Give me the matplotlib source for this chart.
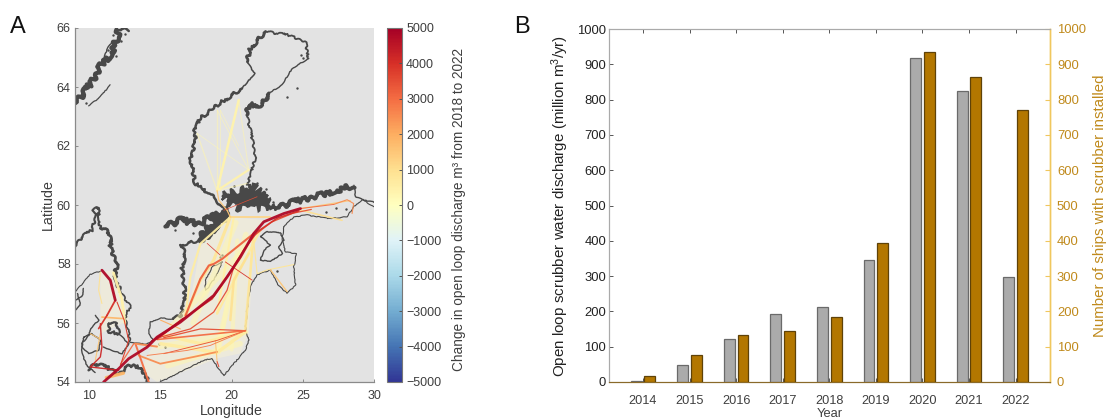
import matplotlib
matplotlib.use("Agg")
import matplotlib.pyplot as plt
import numpy as np
from matplotlib.colors import Normalize

plt.rcParams['font.family'] = ['Liberation Sans', 'DejaVu Sans']
plt.rcParams['mathtext.default'] = 'regular'

# ---------- Panel B data ----------
years = [2014, 2015, 2016, 2017, 2018, 2019, 2020, 2021, 2022]
discharge = [4, 48, 121, 194, 213, 347, 918, 825, 297]
ships = [18, 77, 132, 145, 184, 394, 936, 864, 770]

# ---------- Panel A data: coast (lon, lat, linewidth) ----------
coasts = [
    ([22.38, 21.32, 21.08], [65.88, 65.31, 64.86], 2.0),
    ([21.08, 21.62, 20.73], [64.86, 64.46, 63.95], 1.1),
    ([20.73, 19.33, 17.8, 17.34, 17.52, 17.1, 17.29, 17.45, 18.27, 18.98, 19.68],
     [63.95, 63.5, 62.94, 62.43, 62.15, 61.7, 61.07, 60.73, 60.45, 60.16, 59.7], 1.8),
    ([22.38, 24.0, 25.18, 25.42], [65.88, 65.76, 65.54, 64.97], 1.3),
    ([25.42, 24.25, 23.55, 22.61, 22.14], [64.97, 64.63, 64.07, 63.79, 63.39], 1.0),
    ([22.61, 22.14, 21.2, 21.08], [63.79, 63.39, 63.39, 63.05], 2.4),
    ([21.08, 21.55, 21.67, 21.32, 21.08, 21.55], [63.05, 62.03, 61.64, 60.96, 60.68, 60.51], 1.3),
    ([23.19, 24.37, 26.25, 27.42, 28.59], [59.9, 60.11, 60.34, 60.5, 60.67], 2.8),
    ([28.59, 28.71, 29.3, 30.0], [60.67, 60.28, 60.16, 60.1], 1.0),
    ([30.0, 29.17, 28.59, 28.11, 26.82, 25.3, 24.37, 23.66], [59.94, 60.18, 59.95, 59.6, 59.54, 59.66, 59.6, 59.26], 0.8),
    ([23.66, 23.55, 23.78, 24.55, 24.37, 24.49, 23.9, 23.19, 22.73, 21.79, 21.32, 21.08, 20.97, 21.2, 20.97, 20.15, 19.45, 18.98, 18.63, 18.04, 16.4, 15.0],
     [59.26, 58.8, 58.41, 58.35, 57.9, 57.29, 57.0, 57.34, 57.8, 57.63, 57.24, 56.45, 55.76, 55.42, 55.08, 54.62, 54.22, 54.52, 54.8, 54.74, 54.34, 54.0], 0.8),
    ([22.03, 22.5, 23.43, 23.66, 23.31, 23.55, 22.73, 22.02, 22.26, 22.73, 22.03],
     [58.93, 59.1, 59.05, 58.8, 58.58, 58.35, 58.08, 58.13, 58.47, 58.64, 58.93], 1.0),
    ([19.33, 18.63, 18.16, 18.16, 18.39, 18.86, 19.33], [58.07, 57.9, 57.45, 57.11, 57.22, 57.56, 58.07], 0.8),
    ([19.68, 18.98, 18.39, 17.81], [59.7, 59.49, 59.09, 58.81], 4.5),
    ([17.81, 16.4], [58.81, 58.64], 1.6),
    ([16.4, 16.76, 16.52, 16.64, 16.75, 16.4, 15.93], [58.64, 58.35, 57.9, 57.39, 56.77, 56.26, 56.12], 1.8),
    ([15.93, 15.0, 14.29, 14.18, 14.48, 14.06, 12.89], [56.12, 56.17, 56.03, 55.64, 55.44, 55.28, 55.33], 0.9),
    ([15.35, 16.4, 17.81, 18.74, 19.68], [59.27, 59.49, 59.37, 59.66, 59.83], 3.0),
    ([9.02, 9.61, 10.31, 10.9, 11.48, 11.83, 12.07], [63.45, 63.79, 64.29, 64.8, 65.08, 65.48, 65.93], 3.0),
    ([12.07, 12.77], [65.93, 65.95], 1.8),
    ([9.96, 10.78, 11.48], [63.36, 63.67, 64.07], 0.9),
    ([11.0, 11.25, 11.6], [64.9, 65.3, 65.5], 1.0),
    ([9.02, 9.49, 10.19, 10.43, 10.31, 10.66, 10.71, 10.78], [58.59, 58.93, 59.15, 59.6, 59.83, 59.92, 59.49, 59.21], 1.5),
    ([10.78, 11.37, 11.55, 11.95, 11.83, 12.19], [59.21, 59.1, 58.47, 58.08, 57.63, 57.06], 2.0),
    ([12.19, 12.89, 12.54, 12.72, 12.89], [57.06, 56.55, 56.27, 55.71, 55.37], 1.2),
    ([9.02, 9.73, 10.08, 10.78], [57.06, 57.45, 57.65, 57.76], 0.8),
    ([9.02, 9.49, 9.61], [56.77, 56.89, 57.17], 1.0),
    ([9.02, 9.37, 9.2], [56.43, 56.6, 57.0], 1.0),
    ([10.43, 10.66, 10.08, 9.96, 9.49, 9.49, 9.84, 10.43], [56.26, 56.09, 55.81, 55.58, 55.3, 54.96, 54.56, 54.33], 1.0),
    ([9.61, 10.19, 10.78, 10.66, 9.96, 9.49, 9.61], [55.52, 55.64, 55.41, 55.08, 54.96, 55.2, 55.52], 1.0),
    ([11.37, 11.95, 12.07, 11.37, 11.37], [55.98, 55.98, 55.64, 55.7, 55.98], 1.6),
    ([12.07, 12.77, 12.3, 11.49, 11.0], [55.64, 55.3, 54.96, 55.08, 55.2], 1.0),
    ([9.96, 10.43, 11.25, 11.6, 12.07, 12.89, 13.71, 13.94, 14.18], [54.4, 54.62, 54.5, 54.4, 54.28, 54.57, 54.5, 54.17, 54.0], 1.9),
]
blob_lon = [19.33, 20.15, 21.55, 22.26, 23.19, 22.03, 20.62, 19.68]
blob_lat = [60.28, 60.45, 60.62, 60.28, 59.94, 59.88, 59.88, 60.11]
wash_lon = [14.76, 16.87, 17.81, 19.91, 22.26, 21.55, 21.2, 20.62, 18.98, 14.76, 13.6]
wash_lat = [55.52, 56.2, 58.58, 59.59, 59.49, 58.8, 55.65, 54.97, 54.8, 54.0, 54.4]
wash2_lon = [10.78, 11.7, 12.8, 10.78]
wash2_lat = [57.73, 57.8, 56.1, 55.64]
islet_lon = [25.0, 25.3, 24.9, 19.2, 27.3, 26.6, 28.0, 23.2, 19.3, 14.9, 15.3,
             10.6, 11.3, 11.7, 12.2, 12.5, 10.1, 9.8, 11.9, 24.6, 23.9, 20.2, 17.3, 16.0, 21.8, 22.4, 22.9]
islet_lat = [64.98, 65.05, 65.1, 58.25, 59.9, 59.75, 59.85, 57.75, 58.3, 55.3, 55.2,
             64.55, 65.25, 65.75, 65.55, 65.8, 64.05, 63.45, 65.05, 63.95, 63.65, 60.65, 59.05, 59.15, 60.75, 60.55, 60.1]

# ---------- Panel A data: shipping routes (lon, lat, change m3, linewidth) ----------
routes = [
    ([14.9, 20.97], [55.2, 55.7], 300, 4.0),
    ([15.5, 20.6], [54.55, 55.3], 300, 4.0),
    ([15.8, 21.1], [55.9, 58.6], 300, 4.0),
    ([18.9, 21.0], [55.0, 59.0], 300, 4.0),
    ([17.3, 20.3], [56.0, 59.4], 300, 4.0),
    ([20.4, 20.0], [58.8, 55.1], 300, 3.0),
    ([19.1, 19.8], [55.0, 57.0], 300, 3.0),
    ([18.98, 20.5], [60.49, 63.56], 380, 1.8),
    ([18.98, 18.98], [60.49, 63.22], 320, 1.0),
    ([19.2, 19.2], [60.49, 63.22], 320, 0.6),
    ([18.98, 17.57], [60.49, 62.43], 320, 1.0),
    ([18.98, 21.2], [60.49, 61.19], 400, 1.6),
    ([18.98, 21.08], [60.49, 60.73], 300, 1.0),
    ([18.98, 21.2], [63.22, 61.19], 300, 0.7),
    ([20.5, 21.2], [63.56, 61.19], 320, 0.8),
    ([17.57, 21.2], [62.43, 61.19], 200, 0.6),
    ([19.2, 20.5], [63.22, 62.0], 280, 0.6),
    ([19.91, 18.74, 17.81, 16.76], [59.59, 58.13, 57.46, 56.25], 800, 2.2),
    ([19.91, 17.81, 17.1, 16.76], [59.59, 58.69, 57.56, 56.25], 550, 1.6),
    ([20.15, 19.68, 18.98], [59.59, 58.24, 56.32], 500, 1.6),
    ([21.55, 20.97], [59.03, 55.81], 800, 1.9),
    ([22.02, 18.98], [59.15, 56.32], 700, 1.6),
    ([21.2, 20.15, 19.91], [58.35, 57.45, 56.1], 900, 1.8),
    ([21.55, 21.79, 22.5, 24.37], [58.8, 57.67, 57.8, 57.98], 800, 0.8),
    ([22.73, 23.9], [57.8, 57.06], 1500, 1.0),
    ([24.72, 27.76], [59.84, 59.48], 1000, 1.1),
    ([19.91, 22.73], [59.59, 59.59], 1200, 1.3),
    ([15.0, 18.98, 20.97], [55.3, 55.0, 55.7], 600, 2.4),
    ([15.2, 17.8, 20.97], [55.6, 55.3, 55.7], 600, 2.4),
    ([10.78, 10.66, 10.89], [57.73, 57.11, 56.66], 900, 0.8),
    ([11.7, 12.3, 12.5], [57.7, 56.8, 56.0], 450, 2.0),
    ([10.89, 12.35], [56.2, 56.15], 1800, 1.2),
    ([10.07, 10.78], [55.64, 55.45], 1500, 0.8),
    ([10.43, 10.78], [54.74, 55.64], 1500, 0.8),
    ([11.2, 12.4], [54.15, 54.3], 1800, 2.4),
    ([18.98, 19.1, 19.68], [60.49, 60.16, 59.82], 1500, 0.9),
    ([19.68, 19.91], [59.82, 59.59], 1500, 0.9),
    ([19.45, 21.79], [59.82, 60.28], 3500, 0.5),
    ([24.84, 28.34], [59.88, 60.15], 1500, 0.8),
    ([27.18, 28.11, 28.57, 28.46], [60.02, 60.18, 60.05, 59.71], 2500, 0.8),
    ([24.84, 27.18], [59.88, 60.02], 3000, 0.7),
    ([13.47, 14.99, 17.33, 18.98], [54.9, 54.62, 54.85, 55.02], 2500, 1.3),
    ([18.98, 18.86], [54.69, 55.41], 1500, 0.8),
    ([19.1, 18.98], [54.52, 54.69], 3500, 0.8),
    ([18.28, 19.2], [58.7, 58.3], 4000, 0.5),
    ([19.56, 21.45], [58.07, 57.45], 4000, 0.6),
    ([13.24, 14.18], [55.3, 54.0], 3000, 1.4),
    ([13.13, 12.19], [55.3, 54.6], 3000, 0.9),
    ([13.24, 14.76], [55.3, 55.2], 2500, 1.4),
    ([15.0, 16.4], [56.1, 55.8], 2000, 0.8),
    ([15.23, 17.81, 20.97], [55.5, 55.8, 55.74], 3500, 0.9),
    ([14.76, 20.97], [55.44, 55.74], 3000, 1.2),
    ([15.23, 18.98, 20.97], [54.96, 55.41, 55.74], 3500, 0.65),
    ([14.06, 16.87, 18.5, 20.97], [54.9, 55.07, 55.24, 55.74], 2800, 0.65),
    ([15.0, 17.1, 18.74, 19.68, 20.15], [55.52, 55.8, 56.37, 57.11, 57.9], 3500, 0.9),
    ([16.76, 17.81, 18.4, 18.74, 19.33, 21.55], [56.25, 57.5, 57.95, 58.0, 58.17, 59.03], 3200, 1.5),
    ([11.95, 12.46, 12.77, 12.19], [56.71, 56.09, 55.41, 54.56], 3800, 0.8),
    ([10.78, 10.89, 10.78, 10.07, 12.07], [55.98, 55.19, 54.85, 54.51, 54.4], 4200, 1.0),
    ([11.25, 10.66], [56.26, 55.81], 4000, 1.2),
    ([11.83, 11.25], [56.77, 56.26], 4000, 1.3),
    ([10.89, 11.48, 11.83], [57.79, 57.45, 56.77], 4800, 2.0),
    ([21.55, 22.8, 24.3, 25.6], [58.95, 59.42, 59.72, 59.85], 3400, 0.9),
    ([14.76, 16.76, 18.63, 19.91, 20.85, 21.79, 23.19, 24.72],
     [55.45, 56.2, 56.82, 57.73, 58.47, 59.09, 59.55, 59.8], 4000, 1.2),
    ([14.4, 15.5, 16.6], [55.38, 55.75, 56.15], 4600, 1.4),
    ([11.01, 12.07, 12.77, 14.06, 14.76, 16.4, 17.57, 18.74, 19.68, 20.62, 21.55, 22.26, 23.66, 24.84],
     [54.0, 54.45, 54.79, 55.18, 55.52, 56.03, 56.48, 56.93, 57.56, 58.24, 59.03, 59.43, 59.71, 59.88], 4800, 2.0),
]

TEXT = '#3f3f3f'
AXC = '#8a8a8a'
GOLD = '#c08a1c'
GOLD_LINE = '#f0c75e'
COAST = '#484848'

fig = plt.figure(figsize=(11.08, 4.2), dpi=100)
W, H = 1108, 420


def box(l, t, r, b):
    return [l / W, (H - b) / H, (r - l) / W, (b - t) / H]


# ---------- Panel A ----------
ax = fig.add_axes(box(75, 28, 374, 382))
ax.set_facecolor('#e3e3e3')
ax.set_xlim(9, 30)
ax.set_ylim(54, 66)
cmap = plt.get_cmap('RdYlBu_r')
norm = Normalize(-5000, 5000)
ax.fill(wash_lon, wash_lat, color='#fdf6cf', lw=0, alpha=0.4, zorder=1)
ax.fill(wash2_lon, wash2_lat, color='#fdf6cf', lw=0, alpha=0.4, zorder=1)
for lon, lat, lw in coasts:
    line, = ax.plot(lon, lat, color=COAST, lw=lw, solid_capstyle='round', solid_joinstyle='round', zorder=2)
    scale = 0.4 if lw < 1.2 else lw * 0.9
    line.set_sketch_params(scale=scale, length=9, randomness=12)
for patch in ax.fill(blob_lon, blob_lat, color=COAST, lw=1.5, zorder=2):
    patch.set_sketch_params(scale=4, length=8, randomness=14)
ax.scatter(islet_lon, islet_lat, s=3, color=COAST, lw=0, zorder=2)
for lon, lat, val, lw in routes:
    ax.plot(lon, lat, color=cmap(norm(val)), lw=lw, alpha=0.95 if val > 350 else 0.55, solid_capstyle='round',
            solid_joinstyle='round', zorder=3)
ax.set_xticks([10, 15, 20, 25, 30])
ax.set_yticks([54, 56, 58, 60, 62, 64, 66])
ax.tick_params(direction='in', length=2.5, width=0.7, color=AXC, labelcolor=TEXT, labelsize=9, pad=3)
ax.tick_params(axis='x', pad=6)
for s in ['top', 'right']:
    ax.spines[s].set_visible(False)
for s in ['left', 'bottom']:
    ax.spines[s].set_color(AXC)
    ax.spines[s].set_linewidth(0.9)
ax.set_xlabel('Longitude', fontsize=10.3, color=TEXT)
ax.xaxis.set_label_coords(0.523, -0.062)
ax.set_ylabel('Latitude', fontsize=10.3, color=TEXT)
ax.yaxis.set_label_coords(-0.068, 0.5)

cax = fig.add_axes(box(387, 28, 402, 382))
sm = plt.cm.ScalarMappable(norm=norm, cmap=cmap)
cb = fig.colorbar(sm, cax=cax)
cb.set_ticks(np.arange(-5000, 5001, 1000))
cb.ax.tick_params(direction='in', length=2.5, width=0.7, color='#555555', labelcolor=TEXT, labelsize=9, pad=3)
cb.outline.set_edgecolor('#777777')
cb.outline.set_linewidth(0.8)
cb.set_label('Change in open loop discharge m³ from 2018 to 2022', fontsize=9.85, color=TEXT)
cb.ax.yaxis.set_label_coords(4.33, 0.486)

# ---------- Panel B ----------
bx = fig.add_axes(box(609, 29, 1050, 382))
x = np.array(years, dtype=float)
bx.bar(x - 0.147, discharge, width=0.235, color='#ababab', edgecolor='#6a6a6a', linewidth=0.9, zorder=3)
bx.set_xlim(2013.27, 2022.74)
bx.set_ylim(0, 1000)
bx.set_xticks(years)
bx.set_yticks(np.arange(0, 1001, 100))
bx.tick_params(axis='x', direction='in', top=True, length=3, width=0.7, color='#555555',
               labelcolor=TEXT, labelsize=9.2, pad=9)
bx.tick_params(axis='y', direction='in', length=3, width=0.7, color='#555555',
               labelcolor='#222222', labelsize=9.4, pad=2)
bx.set_xlabel('Year', fontsize=9.3, color=TEXT)
bx.xaxis.set_label_coords(0.5, -0.074)
bx.set_ylabel('Open loop scrubber water discharge (million m$^3$/yr)', fontsize=10.9, color='#222222')
bx.yaxis.set_label_coords(-0.086, 0.5)

rx = bx.twinx()
rx.bar(x + 0.147, ships, width=0.235, color='#b37700', edgecolor='#5f4208', linewidth=0.9, zorder=3)
rx.set_ylim(0, 1000)
rx.set_yticks(np.arange(0, 1001, 100))
rx.tick_params(axis='y', direction='in', length=3.5, width=0.8, color=GOLD_LINE, labelcolor=GOLD,
               labelsize=9.4, pad=5)
rx.set_ylabel('Number of ships with scrubber installed', fontsize=10.8, color=GOLD)
rx.yaxis.set_label_coords(1.098, 0.5)
for a in (bx, rx):
    a.spines['top'].set_color('#aaaaaa')
    a.spines['left'].set_color('#aaaaaa')
    a.spines['bottom'].set_color('#8a6a2a')
    a.spines['right'].set_color(GOLD_LINE)
    a.spines['right'].set_linewidth(1.0)

fig.text(10 / W, (H - 33) / H, 'A', fontsize=17, color='#111111')
fig.text(514 / W, (H - 33) / H, 'B', fontsize=17, color='#111111')

fig.savefig('out.png', dpi=100)
